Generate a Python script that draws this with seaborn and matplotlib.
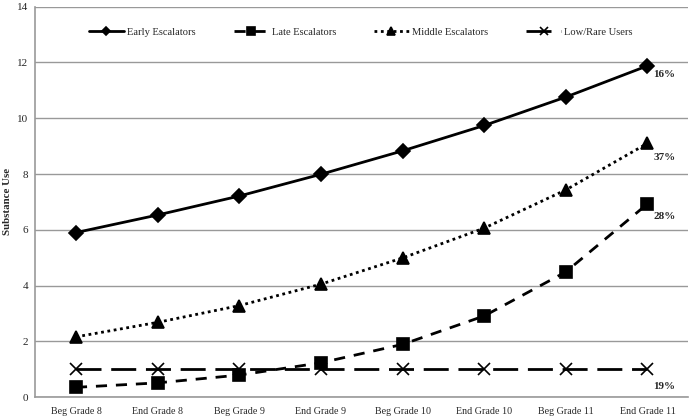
import seaborn as sns
import matplotlib.pyplot as plt
import pandas as pd
import numpy as np

# Datos
etapas = ["Beg Grade 8", "End Grade 8", "Beg Grade 9", "End Grade 9",
          "Beg Grade 10", "End Grade 10", "Beg Grade 11", "End Grade 11"]
early = [5.9, 6.53, 7.21, 7.99, 8.83, 9.74, 10.76, 11.88]
late = [0.35, 0.51, 0.79, 1.23, 1.89, 2.91, 4.49, 6.93]
middle = [2.16, 2.68, 3.28, 4.05, 4.99, 6.06, 7.43, 9.1]
low = [1.0, 1.0, 1.0, 1.0, 1.0, 1.0, 1.0, 1.0]
grupos = ["Early Escalators", "Late Escalators", "Middle Escalators", "Low/Rare Users"]
porcentajes = ["16%", "28%", "37%", "19%"]
pos_etiquetas = [11.56, 6.46, 8.58, 0.39]

sns.set_style("white")
plt.rcParams["font.family"] = ["Liberation Serif", "DejaVu Serif"]

df = pd.DataFrame({
    "x": list(range(len(etapas))) * 4,
    "valor": early + late + middle + low,
    "grupo": np.repeat(grupos, len(etapas)),
})

estilos = {
    "Early Escalators": dict(marker="D", ms=7, dashes=None),
    "Late Escalators": dict(marker="s", ms=9, dashes=(4, 3.2)),
    "Middle Escalators": dict(marker="^", ms=9, dashes=(1, 1.3)),
    "Low/Rare Users": dict(marker="x", ms=9, dashes=(9, 3.5)),
}

fig = plt.figure(figsize=(6.89, 4.18), dpi=100)
ax = fig.add_axes([0.051, 0.05, 0.948, 0.934])

for g in grupos:
    e = estilos[g]
    sub = df[df["grupo"] == g]
    sns.lineplot(data=sub, x="x", y="valor", ax=ax, color="black", lw=2,
                 marker=e["marker"], markersize=e["ms"], markeredgecolor="black",
                 markeredgewidth=1.2, label=g)
    if e["dashes"] is not None:
        ax.lines[-1].set_dashes(e["dashes"])

for g, p, yv in zip(grupos, porcentajes, pos_etiquetas):
    ax.text(len(etapas) - 1 + 0.21, yv, p, ha="center", va="center",
            fontsize=8, fontweight="bold")

ax.set_xlim(-0.5, len(etapas) - 0.5)
ax.set_ylim(0, 14)
ax.set_yticks(range(0, 15, 2))
ax.set_xticks(range(len(etapas)))
ax.set_xticklabels(etapas, fontsize=7.2)
ax.set_xticks(np.arange(-0.5, len(etapas), 1), minor=True)
ax.tick_params(axis="x", which="major", length=0, pad=7)
ax.tick_params(axis="x", which="minor", length=4, color="#888888", direction="out")
ax.tick_params(axis="y", length=3, color="#888888", direction="out", labelsize=8, pad=2)
ax.yaxis.grid(True, color="#999999", lw=1)
ax.set_axisbelow(True)
for s in ["top", "right"]:
    ax.spines[s].set_visible(False)
for s in ["left", "bottom"]:
    ax.spines[s].set_color("#999999")
    ax.spines[s].set_linewidth(1.2)
ax.set_xlabel("")
ax.set_ylabel("Substance Use", fontsize=7.8, fontweight="bold")
ax.yaxis.set_label_coords(-0.036, 0.5)

ax.legend(loc="center left", bbox_to_anchor=(0.068, 0.934), ncol=4, frameon=False,
          fontsize=7.6, handlelength=3.3, columnspacing=3.6, handletextpad=0.3,
          markerscale=0.6)

plt.savefig("out.png", dpi=100)
